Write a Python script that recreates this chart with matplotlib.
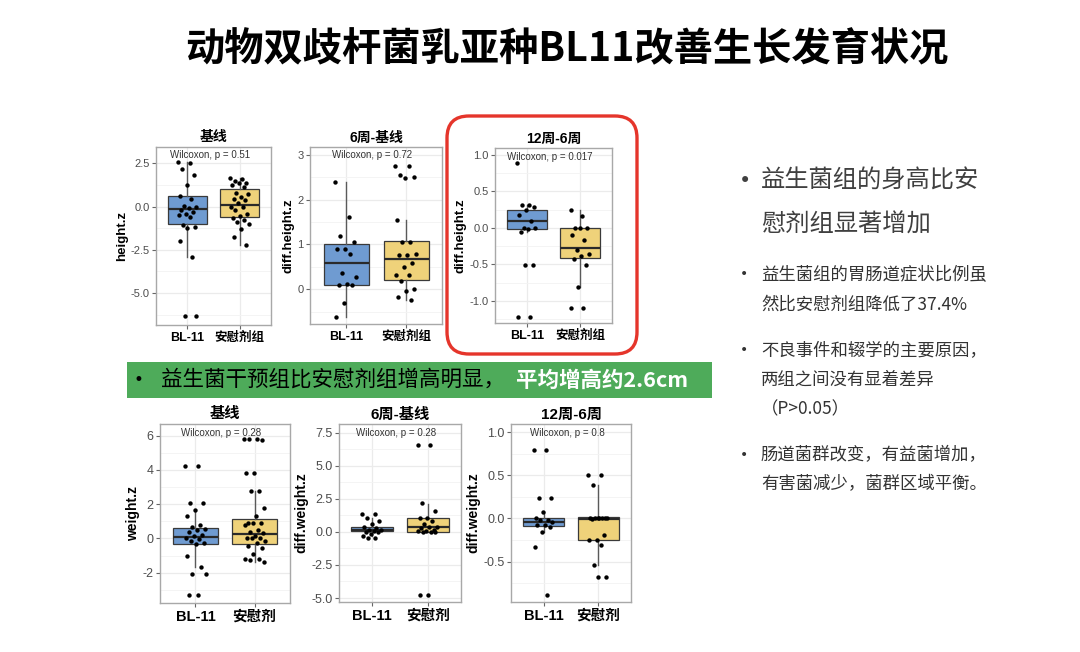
import matplotlib
matplotlib.use("Agg")
import matplotlib.pyplot as plt
from matplotlib.patches import FancyBboxPatch, Rectangle
from matplotlib.ticker import AutoMinorLocator
import numpy as np

# --- Datos ---

title = "动物双歧杆菌乳亚种BL11改善生长发育状况"
groups_top = ["BL-11", "安慰剂组"]
groups_bottom = ["BL-11", "安慰剂"]
panel_titles = ["基线", "6周-基线", "12周-6周"]
ylabels_top = ["height.z", "diff.height.z", "diff.height.z"]
ylabels_bottom = ["weight.z", "diff.weight.z", "diff.weight.z"]
p_values_top = ["0.51", "0.72", "0.017"]
p_values_bottom = ["0.28", "0.28", "0.8"]

# Altura - basal
h_base_bl = [2.6, 2.5, 2.15, 1.83, 1.25, 0.58, 0.46, 0.04, -0.05, -0.1, -0.2, -0.3,
             -0.42, -0.48, -0.58, -1.06, -1.2, -1.25, -2.02, -2.92, -6.35, -6.35]
h_base_pl = [1.63, 1.58, 1.48, 1.35, 1.35, 1.25, 1.1, 0.8, 0.73, 0.54, 0.46, 0.38, 0.23,
             0.0, -0.04, -0.19, -0.42, -0.54, -0.67, -0.77, -0.88, -1.0, -1.31, -1.77, -2.21]
h_base_box = [(-1.02, -0.15, 0.6, -2.9, 2.6), (-0.6, 0.1, 1.0, -2.25, 1.63)]

# Altura - 6 semanas menos basal
h_6w_bl = [2.38, 1.62, 1.2, 1.06, 0.9, 0.9, 0.78, 0.37, 0.28, 0.11, 0.1, 0.1, -0.3, -0.61]
h_6w_pl = [2.75, 2.75, 2.55, 2.5, 2.47, 1.54, 1.06, 1.06, 0.79, 0.76, 0.76, 0.59, 0.5,
           0.32, 0.31, 0.19, 0.0, -0.03, -0.16, -0.24]
h_6w_box = [(0.1, 0.58, 1.01, -0.61, 2.38), (0.21, 0.68, 1.08, -0.24, 1.54)]

# Altura - 12 semanas menos 6 semanas
h_12w_bl = [0.89, 0.32, 0.31, 0.29, 0.25, 0.18, 0.1, 0.005, 0.005, -0.01, -0.06,
            -0.51, -0.51, -1.22, -1.22]
h_12w_pl = [0.24, 0.16, 0.0, 0.0, 0.0, -0.1, -0.17, -0.31, -0.36, -0.39, -0.43,
            -0.51, -0.81, -1.1, -1.1]
h_12w_box = [(-0.01, 0.1, 0.25, -0.06, 0.32), (-0.41, -0.28, 0.0, -0.81, 0.24)]

# Peso - basal
w_base_bl = [4.25, 4.25, 2.06, 2.06, 1.67, 1.28, 0.8, 0.66, 0.56, 0.5, 0.37, 0.21, 0.12,
             0.02, -0.04, -0.17, -0.29, -0.33, -1.05, -1.67, -2.06, -2.06, -3.28, -3.28]
w_base_pl = [5.8, 5.8, 5.8, 5.75, 3.84, 3.84, 2.74, 2.74, 1.8, 1.3, 0.89, 0.89, 0.89, 0.8,
             0.5, 0.35, 0.31, 0.12, 0.02, 0.02, 0.02, -0.17, -0.27, -0.47, -0.56, -0.91,
             -1.22, -1.22, -1.26, -1.4]
w_base_box = [(-0.33, 0.08, 0.6, -1.65, 1.67), (-0.33, 0.27, 1.13, -1.4, 2.74)]

# Peso - 6 semanas menos basal
w_6w_bl = [1.36, 1.36, 1.08, 0.83, 0.58, 0.4, 0.28, 0.15, 0.15, 0.08, -0.03, -0.03,
           -0.18, -0.35, -0.48, -0.48]
w_6w_pl = [6.6, 6.6, 2.16, 1.58, 1.08, 1.08, 0.83, 0.58, 0.4, 0.4, 0.28, 0.15, 0.08,
           0.08, -0.03, -0.03, -0.03, -4.75, -4.75]
w_6w_box = [(0.03, 0.15, 0.4, -0.35, 1.08), (-0.03, 0.33, 1.08, -0.03, 2.09)]

# Peso - 12 semanas menos 6 semanas
w_12w_bl = [0.79, 0.79, 0.24, 0.24, 0.073, 0.004, -0.023, -0.023, -0.046, -0.073,
            -0.073, -0.104, -0.162, -0.336, -0.885]
w_12w_pl = [0.51, 0.51, 0.39, 0.01, 0.01, 0.0, 0.0, 0.0, 0.0, 0.0, -0.004, -0.19,
            -0.25, -0.25, -0.31, -0.54, -0.68, -0.68]
w_12w_box = [(-0.093, -0.043, 0.004, -0.162, 0.073), (-0.25, -0.004, 0.02, -0.54, 0.39)]

# Textos del lado derecho
right_big = ["益生菌组的身高比安", "慰剂组显著增加"]
right_small = [
    ["益生菌组的胃肠道症状比例虽", "然比安慰剂组降低了37.4%"],
    ["不良事件和辍学的主要原因，", "两组之间没有显着差异", "（P>0.05）"],
    ["肠道菌群改变，有益菌增加，", "有害菌减少，菌群区域平衡。"],
]
banner_black = "益生菌干预组比安慰剂组增高明显，"
banner_white = "平均增高约2.6cm"

# --- Estilo ---
W, H = 1080, 652
BLUE = "#6F9BD1"
YELLOW = "#EFD27A"
plt.rcParams["font.family"] = ["Liberation Sans", "Noto Sans CJK SC", "DejaVu Sans"]
CJK = ["Noto Sans CJK SC", "DejaVu Sans"]
BULLET = ["DejaVu Sans"]


def px_rect(x0, y0, x1, y1):
    # convierte píxeles (origen arriba-izquierda) a fracción de figura
    return [x0 / W, 1 - y1 / H, (x1 - x0) / W, (y1 - y0) / H]


def jitter(n, width=0.36):
    # desplazamiento horizontal determinista (como geom_jitter)
    return ((np.arange(n) * 0.618034) % 1 - 0.5) * width


def draw_panel(rect, bl, pl, box, groups, ttl, ylab, pval, yticks, ylabels, ylim, big):
    ax = fig.add_axes(px_rect(*rect))
    hpx = rect[3] - rect[1]
    stats = []
    for q1, med, q3, lo, hi in box:
        stats.append(dict(q1=q1, med=med, q3=q3, whislo=lo, whishi=hi, fliers=[]))
    bp = ax.bxp(stats, positions=[1, 2], widths=0.75, patch_artist=True,
                showfliers=False, showcaps=False,
                boxprops=dict(edgecolor="#3a3a3a", linewidth=0.9),
                medianprops=dict(color="#2a2a2a", linewidth=1.6),
                whiskerprops=dict(color="#5a5a5a", linewidth=1.0))
    for patch, c in zip(bp["boxes"], [BLUE, YELLOW]):
        patch.set_facecolor(c)
    for i, vals in enumerate([bl, pl]):
        ax.scatter(i + 1 + jitter(len(vals)), vals, s=10, color="black", zorder=5, linewidths=0)

    ax.set_xlim(0.4, 2.6)
    ax.set_ylim(*ylim)
    ax.set_yticks(yticks)
    ax.set_yticklabels(ylabels)
    ax.yaxis.set_minor_locator(AutoMinorLocator(2))
    ax.set_xticks([1, 2])
    ax.set_xticklabels(groups, fontweight="bold", color="black",
                       fontsize=10.5 if big else 9)
    ax.tick_params(axis="y", which="major", labelsize=9 if big else 8,
                   labelcolor="#4D4D4D", color="#666666", length=3, width=0.8, pad=1.5)
    ax.tick_params(axis="x", color="#666666", length=3, width=0.8, pad=2)
    ax.tick_params(which="minor", length=0)
    ax.grid(True, which="major", color="#EBEBEB", linewidth=0.9)
    ax.grid(True, which="minor", axis="y", color="#F3F3F3", linewidth=0.6)
    ax.set_axisbelow(True)
    for sp in ax.spines.values():
        sp.set_color("#A8A8A8")
        sp.set_linewidth(1.0)
    ax.set_ylabel(ylab, fontweight="bold", fontsize=10 if big else 9.5, labelpad=2)
    ax.set_title(ttl, fontweight="bold", fontsize=11 if big else 10, pad=4)
    ax.text(0.47, 1 - 8.5 / hpx, "Wilcoxon, p = " + pval, transform=ax.transAxes,
            ha="center", va="center", fontsize=7, color="#333333")
    return ax


fig = plt.figure(figsize=(W / 100, H / 100), dpi=100)

# --- Fila superior: altura ---
draw_panel((156, 147, 271, 325), h_base_bl, h_base_pl, h_base_box, groups_top,
           panel_titles[0], ylabels_top[0], p_values_top[0],
           [-5, -2.5, 0, 2.5], ["-5.0", "-2.5", "0.0", "2.5"], (-6.85, 3.44), False)
draw_panel((310, 147, 442, 324), h_6w_bl, h_6w_pl, h_6w_box, groups_top,
           panel_titles[1], ylabels_top[1], p_values_top[1],
           [0, 1, 2, 3], ["0", "1", "2", "3"], (-0.77, 3.17), False)
draw_panel((495, 148, 612, 323), h_12w_bl, h_12w_pl, h_12w_box, groups_top,
           panel_titles[2], ylabels_top[2], p_values_top[2],
           [-1, -0.5, 0, 0.5, 1], ["-1.0", "-0.5", "0.0", "0.5", "1.0"], (-1.305, 1.096), False)

# --- Fila inferior: peso ---
draw_panel((160, 424, 290, 603), w_base_bl, w_base_pl, w_base_box, groups_bottom,
           panel_titles[0], ylabels_bottom[0], p_values_bottom[0],
           [-2, 0, 2, 4, 6], ["-2", "0", "2", "4", "6"], (-3.77, 6.68), True)
draw_panel((339, 424, 461, 602), w_6w_bl, w_6w_pl, w_6w_box, groups_bottom,
           panel_titles[1], ylabels_bottom[1], p_values_bottom[1],
           [-5, -2.5, 0, 2.5, 5, 7.5], ["-5.0", "-2.5", "0.0", "2.5", "5.0", "7.5"],
           (-5.3, 8.15), True)
draw_panel((511, 424, 631, 602), w_12w_bl, w_12w_pl, w_12w_box, groups_bottom,
           panel_titles[2], ylabels_bottom[2], p_values_bottom[2],
           [-0.5, 0, 0.5, 1], ["-0.5", "0.0", "0.5", "1.0"], (-0.97, 1.097), True)

# --- Título ---
fig.text(567 / W, 1 - 50 / H, title, ha="center", va="center", fontsize=28.3,
         fontweight="bold", family=CJK, color="black")

# --- Recuadro rojo alrededor del panel 12周-6周 ---
red_box = FancyBboxPatch((447 / 100, (H - 354) / 100), (637 - 447) / 100, (354 - 116) / 100,
                         boxstyle="round,pad=0,rounding_size=0.22",
                         transform=fig.dpi_scale_trans, fill=False,
                         edgecolor="#E5352B", linewidth=2.4, zorder=10)
fig.add_artist(red_box)

# --- Banda verde ---
fig.add_artist(Rectangle((127 / W, 1 - 398 / H), (712 - 127) / W, 36 / H,
                         transform=fig.transFigure, facecolor="#4EAB5A",
                         edgecolor="none", zorder=1))
fig.text(134 / W, 1 - 380 / H, "•", ha="left", va="center", fontsize=12,
         color="black", family=BULLET, zorder=2)
fig.text(161 / W, 1 - 380 / H, banner_black, ha="left", va="center", fontsize=15.5,
         color="black", family=CJK, zorder=2)
fig.text(516 / W, 1 - 380 / H, banner_white, ha="left", va="center", fontsize=15.5,
         color="white", fontweight="bold", family=CJK, zorder=2)

# --- Texto a la derecha ---
fig.text(739 / W, 1 - 181 / H, "•", ha="left", va="center", fontsize=15,
         color="#404040", family=BULLET)
for i, line in enumerate(right_big):
    fig.text(761 / W, 1 - (181 + i * 43.5) / H, line, ha="left", va="center",
             fontsize=17.5, color="#404040", family=CJK)

small_rows = [[274, 305], [350, 379.5, 409], [455, 484.5]]
for block, rows in zip(right_small, small_rows):
    fig.text(740 / W, 1 - rows[0] / H, "•", ha="left", va="center", fontsize=10,
             color="#333333", family=BULLET)
    for line, y in zip(block, rows):
        fig.text(761 / W, 1 - y / H, line, ha="left", va="center", fontsize=12.5,
                 color="#333333", family=CJK)

fig.savefig("out.png", dpi=100)
